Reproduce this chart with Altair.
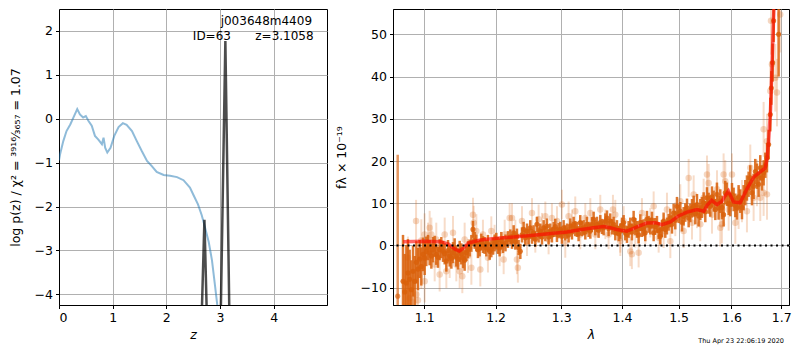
import altair as alt
import pandas as pd

FONT = "DejaVu Sans"
ORANGE = "#d9600a"

# ---------------- left panel: log p(z) ----------------
z_chi = [0.00, 0.02, 0.08, 0.14, 0.21, 0.27, 0.34, 0.39, 0.45, 0.50, 0.55, 0.61, 0.67,
         0.73, 0.80, 0.83, 0.86, 0.90, 0.96, 1.03, 1.11, 1.19, 1.26, 1.36, 1.45, 1.54,
         1.64, 1.73, 1.82, 1.95, 2.07, 2.20, 2.32, 2.44, 2.51, 2.59, 2.66, 2.72, 2.79,
         2.85, 2.91, 2.95, 3.00]
logp_chi = [-0.95, -0.81, -0.51, -0.28, -0.13, 0.03, 0.22, 0.10, 0.03, 0.06, -0.05, -0.16,
            -0.39, -0.47, -0.58, -0.43, -0.66, -0.77, -0.66, -0.39, -0.19, -0.10, -0.14,
            -0.28, -0.51, -0.73, -0.96, -1.08, -1.21, -1.28, -1.30, -1.33, -1.40, -1.57,
            -1.75, -1.95, -2.20, -2.47, -2.81, -3.22, -3.83, -4.25, -4.90]

z_pz = [2.613, 2.71, 2.796, 2.986, 3.10, 3.199]
logp_pz = [-6.5, -2.3, -6.5, -6.5, 1.77, -6.5]

ann_text = ["j003648m4409", "z=3.1058", "ID=63"]
ann_z = [4.715, 4.745, 2.494]
ann_y = [2.23, 1.897, 1.897]
ann_align = ["right", "right", "left"]

# ---------------- right panel: spectrum ----------------
dark_lam = [1.0649, 1.0718, 1.0740, 1.0762, 1.0783, 1.0805, 1.0828, 1.0850, 1.0872, 1.0894,
            1.0916, 1.0938, 1.0960, 1.0983, 1.1005, 1.1027, 1.1050, 1.1072, 1.1095, 1.1117,
            1.1140, 1.1162, 1.1185, 1.1208, 1.1231, 1.1254, 1.1277, 1.1300, 1.1323, 1.1346,
            1.1369, 1.1392, 1.1415, 1.1438, 1.1461, 1.1485, 1.1508, 1.1532, 1.1555, 1.1579,
            1.1602, 1.1626, 1.1650, 1.1673, 1.1697, 1.1721, 1.1744, 1.1768, 1.1792, 1.1816,
            1.1840, 1.1864, 1.1888, 1.1913, 1.1937, 1.1961, 1.1985, 1.2010, 1.2034, 1.2059,
            1.2083, 1.2108, 1.2145, 1.2182,
            1.2217, 1.2242, 1.2267, 1.2292, 1.2316, 1.2341, 1.2367, 1.2392, 1.2417, 1.2442,
            1.2468, 1.2493, 1.2518, 1.2544, 1.2569, 1.2595, 1.2621, 1.2646, 1.2672, 1.2698,
            1.2724, 1.2750, 1.2775, 1.2801, 1.2827, 1.2853, 1.2880, 1.2906, 1.2932, 1.2958,
            1.2985, 1.3011, 1.3038, 1.3064, 1.3091, 1.3117, 1.3144, 1.3171, 1.3198, 1.3224,
            1.3251, 1.3278, 1.3305, 1.3332, 1.3360, 1.3387, 1.3414, 1.3441, 1.3469, 1.3496,
            1.3524, 1.3551, 1.3579, 1.3606, 1.3634, 1.3662, 1.3690, 1.3718, 1.3746, 1.3773,
            1.3801, 1.3830, 1.3858, 1.3886, 1.3914, 1.3943, 1.3971, 1.4000, 1.4028, 1.4056,
            1.4085, 1.4113, 1.4142, 1.4171, 1.4200, 1.4229, 1.4258, 1.4287, 1.4316, 1.4345,
            1.4374, 1.4403, 1.4433, 1.4462, 1.4492, 1.4521, 1.4551, 1.4580, 1.4610, 1.4640,
            1.4670, 1.4699, 1.4729, 1.4759, 1.4789, 1.4819, 1.4850, 1.4880, 1.4910, 1.4940,
            1.4971, 1.5001, 1.5032, 1.5062, 1.5093, 1.5124, 1.5155, 1.5186, 1.5217, 1.5248,
            1.5279, 1.5310, 1.5341, 1.5372, 1.5403, 1.5434, 1.5466, 1.5497, 1.5529, 1.5560,
            1.5592, 1.5624, 1.5656, 1.5688, 1.5719, 1.5751, 1.5783, 1.5815, 1.5847, 1.5879,
            1.5912, 1.5945, 1.5977, 1.6010, 1.6042, 1.6075, 1.6107, 1.6140, 1.6173, 1.6206,
            1.6239, 1.6272, 1.6305, 1.6338, 1.6371, 1.6405, 1.6438, 1.6471, 1.6505, 1.6538,
            1.6572, 1.6606, 1.6640, 1.6674, 1.6708, 1.6742, 1.6776, 1.6797, 1.6824, 1.6844,
            1.6947]
dark_flux = [-12.0, -8.5, -11.0, -8.9, -6.5, -8.0, -10.5, -6.1, -8.5, -4.0,
             -5.6, -3.2, -5.0, -2.1, -3.0, -1.4, -0.5, -1.7, -2.5, -1.0,
             -0.2, -2.1, -2.8, -1.0, -0.5, -1.4, -2.0, -3.7, -1.2, -2.5,
             -3.0, -1.7, -0.8, -2.5, -3.2, -1.4, -2.0, -2.9, -3.5, -1.7,
             -1.0, -0.6, 0.5, 3.8, 1.2, 0.6, -1.0, -0.6, 0.8, 0.2,
             0.0, -0.6, 0.5, -1.4, -0.8, -0.2, 0.6, 1.0, 0.0, -0.6,
             1.2, 0.2, 0.6, 1.4,
             2.0, 1.0, 3.0, 0.8, 2.2, -0.5, -1.4, 2.5, 3.8, 1.8,
             3.4, 2.0, 4.2, 2.2, 3.0, 1.5, 5.0, 2.5, 3.4, 2.0,
             4.2, 2.8, 4.6, 2.0, 3.4, 2.5, 3.8, 4.5, 2.6, 3.5,
             3.8, 2.2, 4.2, 3.0, 3.4, 2.5, 4.6, 3.2, 5.0, 4.0,
             3.8, 2.8, 5.4, 4.0, 4.2, 3.2, 5.0, 3.8, 3.4, 5.0,
             6.2, 4.2, 5.0, 3.6, 5.4, 4.5, 4.2, 5.8, 6.5, 4.0,
             5.8, 4.4, 5.0, 3.0, 4.2, 2.8, 3.4, 4.8, 5.4, 3.0,
             2.6, 3.8, 4.6, 3.2, 6.2, 4.5, 3.8, 2.5, 5.4, 4.0,
             4.2, 3.0, 6.2, 5.0, 4.6, 6.0, 3.0, 4.5, 5.0, 3.5,
             2.2, 4.0, 5.8, 3.8, 4.6, 5.5, 6.5, 5.0, 7.7, 6.0,
             9.3, 7.5, 8.1, 5.5, 6.9, 7.8, 8.9, 6.5, 7.7, 8.8,
             9.3, 7.5, 9.7, 7.0, 8.5, 9.0, 10.1, 8.0, 11.3, 10.0,
             9.3, 11.5, 10.5, 8.5, 12.1, 8.9, 10.5, 9.0, 7.3, 12.5,
             12.1, 10.0, 9.7, 12.0, 10.9, 9.5, 8.9, 11.5, 10.5, 9.0,
             11.3, 12.5, 13.6, 14.5, 16.0, 12.5, 14.0, 17.5, 16.4, 14.5,
             18.4, 16.0, 17.2, 19.0, 20.8, 23.9, 31.0, 37.3, 43.3, 53.2,
             50.0]
dark_err = [33.5, 11.0, 9.0, 9.0, 8.0, 7.0, 7.0, 6.0, 6.0, 5.0,
            5.0, 4.5, 4.5, 4.0, 4.0, 3.5, 3.0, 3.0, 3.0, 3.0,
            2.5, 2.5, 2.5, 2.5, 2.5, 2.5, 2.5, 2.5, 2.5, 2.5,
            2.5, 2.5, 2.5, 2.5, 2.5, 2.5, 2.5, 2.5, 2.5, 2.0,
            2.0, 2.0, 2.0, 2.0, 2.0, 2.0, 2.0, 2.0, 2.0, 2.0,
            2.0, 2.0, 2.0, 2.0, 2.0, 2.0, 2.0, 2.0, 2.0, 2.0,
            2.0, 2.0, 2.0, 2.0,
            1.8, 1.8, 1.8, 1.8, 1.8, 1.8, 1.8, 1.8, 1.8, 1.8,
            1.8, 1.8, 1.8, 1.8, 1.8, 1.8, 1.8, 1.8, 1.8, 1.8,
            1.8, 1.8, 1.8, 1.8, 1.8, 1.8, 1.8, 1.8, 1.8, 1.8,
            1.8, 1.8, 1.8, 1.8, 1.8, 1.8, 1.8, 1.8, 1.8, 1.8,
            1.8, 1.8, 1.8, 1.8, 1.8, 1.8, 1.8, 1.8, 1.8, 1.8,
            1.8, 1.8, 1.8, 1.8, 1.8, 1.8, 1.8, 1.8, 1.8, 1.8,
            1.8, 1.8, 1.8, 1.8, 1.8, 1.8, 1.8, 1.8, 1.8, 1.8,
            2.0, 2.0, 2.0, 2.0, 2.0, 2.0, 2.0, 2.0, 2.0, 2.0,
            2.0, 2.0, 2.0, 2.0, 2.0, 2.0, 2.0, 2.0, 2.0, 2.0,
            2.0, 2.0, 2.0, 2.0, 2.0, 2.0, 2.2, 2.2, 2.2, 2.2,
            2.2, 2.2, 2.2, 2.2, 2.2, 2.2, 2.2, 2.2, 2.2, 2.2,
            2.5, 2.5, 2.5, 2.5, 2.5, 2.5, 2.5, 2.5, 2.5, 2.5,
            2.5, 2.5, 2.5, 2.5, 2.8, 2.8, 2.8, 2.8, 2.8, 2.8,
            2.8, 2.8, 2.8, 2.8, 2.8, 2.8, 2.8, 2.8, 2.8, 2.8,
            3.0, 3.0, 3.0, 3.0, 3.0, 3.0, 3.0, 3.0, 3.0, 3.0,
            3.0, 3.0, 3.0, 3.0, 3.5, 3.5, 4.0, 4.0, 4.5, 5.0,
            10.0]
# the first (edge) spectrum point is drawn paler in the reference
dark_alpha = [0.65] + [0.85] * (len(dark_lam) - 1)

light_lam = [1.0783, 1.0805, 1.0850, 1.0890, 1.0894, 1.0916, 1.0960, 1.0960, 1.1004, 1.1005,
             1.1050, 1.1072, 1.1095, 1.1140, 1.1162, 1.1208, 1.1277, 1.1300, 1.1346, 1.1392,
             1.1438, 1.1485, 1.1522, 1.1555, 1.1602, 1.1650, 1.1673, 1.1683, 1.1721, 1.1778,
             1.1816, 1.1888, 1.1937, 1.1985, 1.2059, 1.2118, 1.2133, 1.2207,
             1.2242, 1.2292, 1.2316, 1.2330, 1.2392, 1.2468, 1.2544, 1.2595, 1.2646, 1.2698,
             1.2750, 1.2801, 1.2853, 1.2932, 1.3011, 1.3064, 1.3117, 1.3171, 1.3224, 1.3305,
             1.3387, 1.3469, 1.3551, 1.3634, 1.3718, 1.3773, 1.3846, 1.3886, 1.3971, 1.4028,
             1.3971, 1.4142, 1.4170, 1.4229, 1.4287, 1.4345, 1.4403, 1.4492, 1.4551, 1.4640,
             1.4729, 1.4789, 1.4850, 1.4940, 1.5032, 1.5093, 1.5186, 1.5248, 1.5279, 1.5341,
             1.5403, 1.5466, 1.5529, 1.5560, 1.5624, 1.5720, 1.5783, 1.5815, 1.5879,
             1.5847, 1.5945, 1.6010, 1.6075, 1.6140, 1.6206, 1.6305, 1.6371, 1.6438, 1.6505,
             1.6572, 1.6640, 1.6708, 1.6640, 1.6708, 1.6776, 1.6810, 1.6790, 1.6879, 1.6913,
             1.6980]
light_flux = [-2.9, -12.5, -13.5, 5.8, -11.6, -13.0, -5.3, 1.2, 2.6, -8.5,
              1.4, 4.2, 2.6, -4.5, 1.4, -6.9, 2.6, -6.1, -3.7, 3.0,
              -4.5, -6.1, -7.3, 1.4, -2.5, -5.3, 7.3, 5.4, 3.4, -5.7,
              2.6, -2.9, 3.4, 1.4, -1.4, -3.3, 2.6, 6.5,
              6.5, 2.6, -3.3, -5.3, 5.8, 1.0, 7.7, 1.8, 6.2, 4.2,
              6.9, 1.4, 6.5, 5.8, 9.7, 0.6, 6.9, 5.0, 8.1, 2.6,
              6.5, 7.7, 2.6, 8.5, 5.0, 2.6, 8.5, 7.3, 1.8, 5.8,
              1.0, -1.4, -2.1, 3.0, -1.7, 7.7, 3.8, 5.4, 9.3, 1.8,
              3.4, 8.5, 1.0, 6.2, 10.5, 3.4, 16.0, 5.4, 12.1, 8.1,
              5.0, 11.3, 16.8, 14.8, 7.3, 13.3, 4.2, 5.0, 15.2,
              16.8, 8.5, 16.8, 5.4, 8.9, 10.5, 8.1, 18.4, 11.3, 14.8,
              11.3, 12.5, 12.1, 27.5, 24.7, 36.6, 42.9, 53.2, 39.7, 36.2,
              54.7]
light_err = [5.0, 6.0, 5.5, 5.0, 6.0, 6.0, 5.0, 5.0, 5.0, 5.0,
             4.0, 4.0, 4.0, 4.0, 4.0, 4.0, 4.0, 4.0, 4.0, 4.0,
             4.0, 4.0, 4.0, 4.0, 4.0, 4.0, 4.0, 4.0, 4.0, 4.0,
             3.5, 3.5, 3.5, 3.5, 3.5, 3.5, 3.5, 3.5,
             3.5, 3.5, 3.5, 3.5, 3.5, 3.5, 3.5, 3.5, 3.5, 3.5,
             3.5, 3.5, 3.5, 3.5, 3.5, 3.5, 3.5, 3.5, 3.5, 3.5,
             3.5, 3.5, 3.5, 3.5, 3.5, 3.5, 3.5, 3.5, 3.5, 3.5,
             3.5, 3.5, 3.5, 3.5, 3.5, 3.5, 3.5, 3.5, 3.5, 3.5,
             4.0, 4.0, 4.0, 4.0, 4.0, 4.0, 4.5, 4.0, 4.5, 4.0,
             4.0, 4.5, 4.5, 4.5, 4.5, 4.5, 4.5, 4.5, 5.0,
             5.0, 5.0, 5.0, 5.0, 5.0, 5.0, 5.0, 5.5, 5.5, 5.5,
             5.5, 5.5, 6.0, 6.5, 6.5, 7.0, 7.0, 8.0, 8.0, 8.0,
             9.0]

model_lam = [1.072, 1.100, 1.122, 1.133, 1.142, 1.148, 1.154, 1.161, 1.178, 1.202,
             1.227, 1.257, 1.288, 1.309, 1.330, 1.352, 1.369, 1.380, 1.391, 1.4085,
             1.426, 1.443, 1.458, 1.470, 1.485, 1.500, 1.5155, 1.534, 1.547, 1.553,
             1.562, 1.572, 1.581, 1.588, 1.594, 1.604, 1.617, 1.6305, 1.644, 1.657,
             1.667, 1.671, 1.674, 1.678, 1.681, 1.684, 1.687]
model_flux = [0.9, 1.0, 0.9, 0.3, -0.9, -1.3, -0.6, 0.6, 1.3, 1.7,
              2.0, 2.4, 2.9, 3.2, 3.7, 4.2, 4.5, 4.2, 3.8, 3.4,
              4.4, 5.3, 5.4, 4.9, 5.6, 7.0, 7.9, 8.5, 8.1, 9.5,
              10.7, 9.7, 10.4, 11.8, 12.9, 10.3, 10.1, 13.4, 16.2, 17.4,
              18.3, 20.5, 24.5, 32.0, 42.0, 53.0, 62.0]

zero_level = [0.0]

z_ticks = [0, 1, 2, 3, 4]
logp_ticks = [-4, -3, -2, -1, 0, 1, 2]
lam_ticks = [1.1, 1.2, 1.3, 1.4, 1.5, 1.6, 1.7]
flux_ticks = [-10, 0, 10, 20, 30, 40, 50]

footer = ["Thu Apr 23 22:06:19 2020"]

# ---------------- build tables ----------------
chi_df = pd.DataFrame({"z": z_chi, "v": logp_chi})
pz_df = pd.DataFrame({"z": z_pz, "v": logp_pz})
ann_df = pd.DataFrame({"t": ann_text, "z": ann_z, "v": ann_y, "a": ann_align})

dark_df = pd.DataFrame({"lam": dark_lam, "f": dark_flux, "e": dark_err, "al": dark_alpha})
dark_df["lo"] = dark_df["f"] - dark_df["e"]
dark_df["hi"] = dark_df["f"] + dark_df["e"]
light_df = pd.DataFrame({"lam": light_lam, "f": light_flux, "e": light_err})
light_df["lo"] = light_df["f"] - light_df["e"]
light_df["hi"] = light_df["f"] + light_df["e"]
model_df = pd.DataFrame({"lam": model_lam, "f": model_flux})
zero_df = pd.DataFrame({"y": zero_level})

MINUS = "replace(datum.label, '-', '\u2212')"

# ---------------- left panel ----------------
zx = alt.X("z:Q", scale=alt.Scale(domain=[0, 4.994], nice=False, zero=False),
           axis=alt.Axis(values=z_ticks, format="d", title="z", titleFontStyle="italic"))
vy = alt.Y("v:Q", scale=alt.Scale(domain=[-4.244, 2.501], nice=False, zero=False),
           axis=alt.Axis(values=logp_ticks, format="d", labelExpr=MINUS,
                         title="log p(z) / \u03c7\u00b2 = \u00b3\u2079\u00b9\u2076\u2044\u2083\u2086\u2085\u2087 = 1.07",
                         titlePadding=12))

blue = alt.Chart(chi_df).mark_line(color="#1f77b4", opacity=0.5, strokeWidth=2, clip=True).encode(
    x=zx, y=vy, order="z:Q")
grey = alt.Chart(pz_df).mark_line(color="black", opacity=0.7, strokeWidth=2.5, clip=True).encode(
    x="z:Q", y="v:Q", order="z:Q")
ann_r = alt.Chart(ann_df[ann_df["a"] == "right"]).mark_text(
    align="right", baseline="middle", font=FONT, fontSize=12, color="black").encode(
    x="z:Q", y="v:Q", text="t:N")
ann_l = alt.Chart(ann_df[ann_df["a"] == "left"]).mark_text(
    align="left", baseline="middle", font=FONT, fontSize=12, color="black").encode(
    x="z:Q", y="v:Q", text="t:N")

left = alt.layer(blue, grey, ann_r, ann_l).properties(width=268, height=296)

# ---------------- right panel ----------------
lx = alt.X("lam:Q", scale=alt.Scale(type="log", domain=[1.0588, 1.7163], nice=False),
           axis=alt.Axis(values=lam_ticks, format=".1f", title="\u03bb", titleFontStyle="italic"))
fy = alt.Y("f:Q", scale=alt.Scale(domain=[-14.10, 56.0], nice=False, zero=False),
           axis=alt.Axis(values=flux_ticks, format="d", labelExpr=MINUS,
                         title="f\u03bb \u00d7 10\u207b\u00b9\u2079", titlePadding=12))

light_bars = alt.Chart(light_df).mark_rule(color=ORANGE, opacity=0.22, strokeWidth=2, clip=True).encode(
    x=lx, y=alt.Y("lo:Q", scale=alt.Scale(domain=[-14.10, 56.0], nice=False, zero=False)), y2="hi:Q")
light_pts = alt.Chart(light_df).mark_circle(color=ORANGE, opacity=0.25, size=42, clip=True).encode(
    x="lam:Q", y=fy)
dark_bars = alt.Chart(dark_df).mark_rule(color=ORANGE, strokeWidth=2.5, clip=True).encode(
    x="lam:Q", y="lo:Q", y2="hi:Q", opacity=alt.Opacity("al:Q", scale=None))
dark_pts = alt.Chart(dark_df).mark_circle(color=ORANGE, size=26, clip=True).encode(
    x="lam:Q", y="f:Q", opacity=alt.Opacity("al:Q", scale=None))
model = alt.Chart(model_df).mark_line(color="red", opacity=0.6, strokeWidth=3.5, clip=True).encode(
    x="lam:Q", y="f:Q", order="lam:Q")
zero = alt.Chart(zero_df).mark_rule(color="black", strokeWidth=2, strokeDash=[2, 3.5]).encode(
    y=alt.Y("y:Q"))
foot = alt.Chart(pd.DataFrame({"t": footer})).mark_text(
    align="right", baseline="middle", font=FONT, fontSize=6.5, color="black").encode(
    x=alt.value(391), y=alt.value(332), text="t:N")

right = alt.layer(light_bars, light_pts, dark_bars, dark_pts, model, zero, foot).properties(
    width=396, height=296)

chart = alt.hconcat(left, right, spacing=66, bounds="flush").properties(
    padding={"left": 0, "top": 0, "right": 0, "bottom": 0}
).configure_axis(
    labelFont=FONT, labelFontSize=12.5, labelColor="black",
    titleFont=FONT, titleFontSize=12.5, titleFontWeight="normal", titleColor="black",
    tickColor="black", tickSize=3.5, tickWidth=1, labelPadding=3,
    domainColor="black", domainWidth=1,
    grid=True, gridColor="#b0b0b0", gridWidth=1
).configure_view(stroke="black", strokeWidth=1)

chart.save("out.html", embed_options={"renderer": "svg", "actions": False})
